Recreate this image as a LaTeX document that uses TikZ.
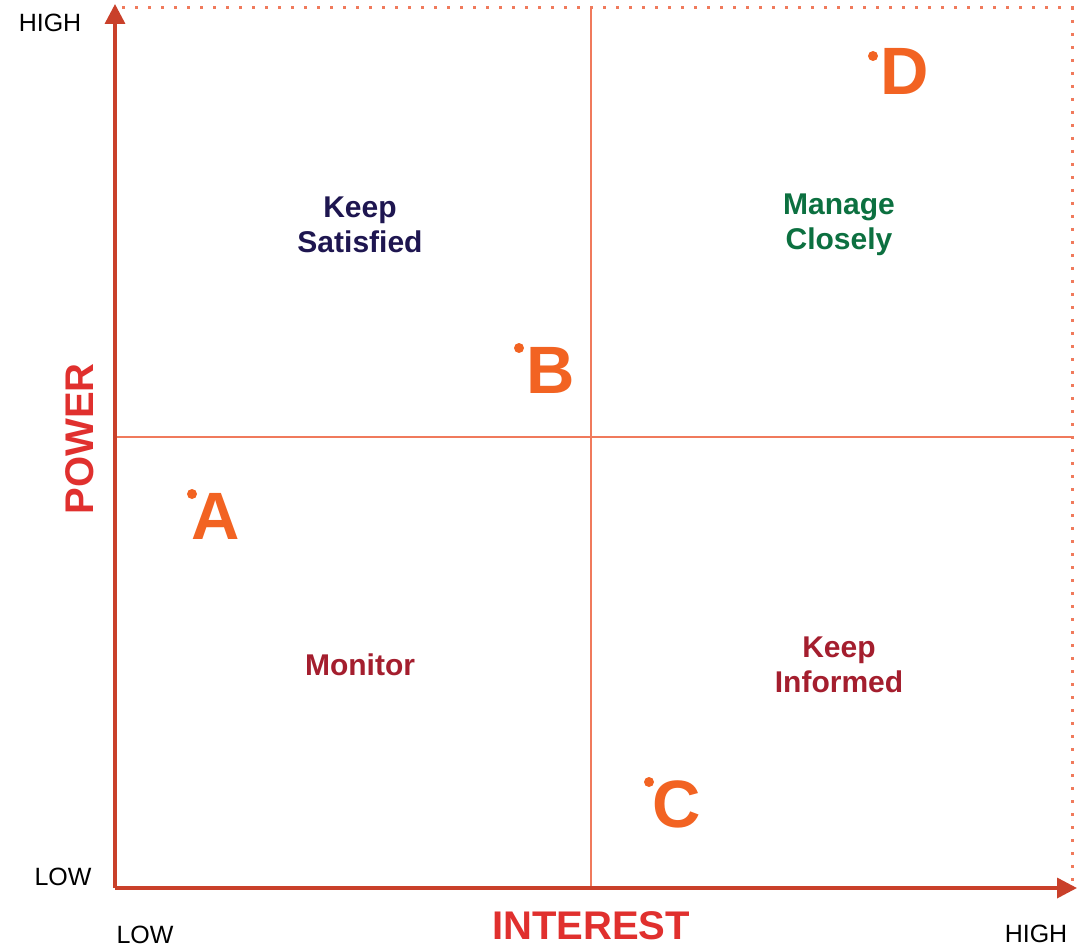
\documentclass[tikz,border=0pt]{standalone}
\usepackage{fontspec}
\setmainfont{Liberation Sans}
\usetikzlibrary{arrows.meta}
\definecolor{axisc}{HTML}{C9402A}
\definecolor{gridc}{HTML}{F07A5C}
\definecolor{powc}{HTML}{E0302E}
\definecolor{navyc}{HTML}{1E1650}
\definecolor{greenc}{HTML}{0C7040}
\definecolor{redc}{HTML}{A41E2E}
\definecolor{orangec}{HTML}{F26322}
\tikzset{
  axisline/.style={draw=axisc, line width=3.5pt, -{Triangle[length=20pt,width=20pt]}},
  gridline/.style={draw=gridc, line width=2.6pt},
  dotline/.style={draw=gridc, line width=3pt, dash pattern=on 3pt off 10pt},
  ticklab/.style={font=\fontsize{25}{28}\selectfont, text=black, inner sep=0pt},
  quad/.style={font=\fontsize{30}{35}\selectfont\bfseries, align=center, inner sep=0pt},
  letter/.style={font=\fontsize{67}{67}\selectfont\bfseries, text=orangec, inner sep=0pt},
  dotmark/.style={circle, fill=orangec, minimum size=10pt, inner sep=0pt},
}
\begin{document}
\begin{tikzpicture}[x=1pt,y=-1pt]
\useasboundingbox (0,0) rectangle (1078,949);
\coordinate (o) at (115,888);
\coordinate (ytip) at (115,4);
\coordinate (xtip) at (1077,888);
\coordinate (tl) at (122,8);
\coordinate (tr) at (1072,8);
\coordinate (br) at (1072,882);
\coordinate (vt) at (591,8);
\coordinate (vb) at (591,888);
\coordinate (hl) at (115,437);
\coordinate (hr) at (1072,437);
\draw[dotline] (tl) -- (tr) -- (br);
\draw[gridline] (vt) -- (vb);
\draw[gridline] (hl) -- (hr);
\draw[axisline] (o) -- (ytip);
\draw[axisline] (o) -- (xtip);
\node[ticklab] (hy) at (50,23) {HIGH};
\node[ticklab] (ly) at (63,877) {LOW};
\node[ticklab] (lx) at (145,935) {LOW};
\node[ticklab] (hx) at (1036,934) {HIGH};
\node[font=\fontsize{40}{42}\selectfont\bfseries, text=powc, rotate=90, inner sep=0pt] (pow) at (80,439) {POWER};
\node[font=\fontsize{40}{42}\selectfont\bfseries, text=powc, inner sep=0pt] (int) at (591,926) {INTEREST};
\node[quad, text=navyc] (ks) at (360,225) {Keep\\Satisfied};
\node[quad, text=greenc] (mc) at (839,225) {Manage\\Closely};
\node[quad, text=redc] (mo) at (360,665) {Monitor};
\node[quad, text=redc] (ki) at (839,665) {Keep\\Informed};
\node[letter] (la) at (216,516) {A};
\node[dotmark] (da) at (192,494) {};
\node[letter] (lb) at (551,370) {B};
\node[dotmark] (db) at (519,348) {};
\node[letter] (lc) at (677,804) {C};
\node[dotmark] (dc) at (649,782) {};
\node[letter] (ld) at (905,71) {D};
\node[dotmark] (dd) at (873,56) {};
\end{tikzpicture}
\end{document}
